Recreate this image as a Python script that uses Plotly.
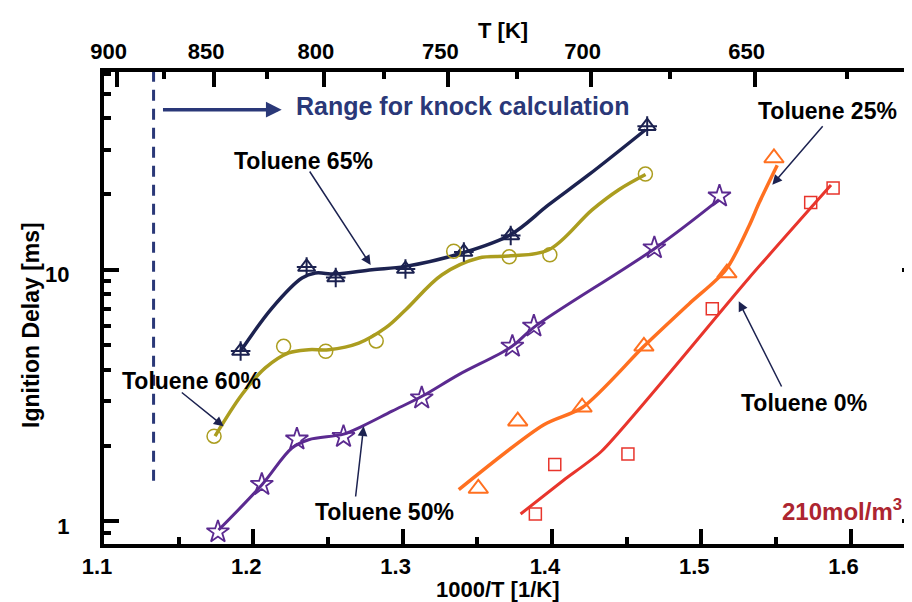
import plotly.graph_objects as go

# ---------------- data ----------------
# Toluene 65 %
t65_x = [1.1915, 1.2357, 1.2552, 1.3019, 1.3410, 1.3724, 1.4638]
t65_y = [4.75, 10.25, 9.31, 10.06, 11.76, 13.68, 37.2]
t65_fit_x = [1.1915, 1.2125, 1.2326, 1.2416, 1.2550, 1.2795, 1.3019, 1.3398, 1.3722, 1.3979, 1.4247, 1.4627]
t65_fit_y = [4.75, 7.04, 9.27, 9.70, 9.61, 10.0, 10.31, 11.65, 13.78, 18.13, 23.85, 36.0]

# Toluene 60 %
t60_x = [1.1737, 1.2203, 1.2485, 1.2823, 1.3342, 1.3714, 1.3986, 1.4626]
t60_y = [2.18, 4.96, 4.74, 5.21, 11.84, 11.25, 11.47, 24.0]
t60_fit_x = [1.1744, 1.1924, 1.2080, 1.2237, 1.2371, 1.2505, 1.2706, 1.2885, 1.3019, 1.3264, 1.3510, 1.3711, 1.3979, 1.4269, 1.4448, 1.4627]
t60_fit_y = [2.18, 3.19, 4.07, 4.67, 4.81, 4.81, 5.11, 5.87, 6.92, 9.55, 11.13, 11.33, 12.0, 17.3, 20.8, 23.9]

# Toluene 50 %
t50_x = [1.1763, 1.2057, 1.2292, 1.2604, 1.3128, 1.3735, 1.3879, 1.4686, 1.5122]
t50_y = [0.907, 1.40, 2.12, 2.17, 3.09, 4.96, 5.96, 12.2, 19.6]
t50_fit_x = [1.1767, 1.2058, 1.2259, 1.2371, 1.2605, 1.2728, 1.2929, 1.3130, 1.3376, 1.3733, 1.3879, 1.4694, 1.5119]
t50_fit_y = [0.923, 1.398, 1.956, 2.11, 2.22, 2.386, 2.74, 3.14, 3.83, 4.96, 5.90, 12.2, 18.98]

# Toluene 25 %
t25_x = [1.3507, 1.3771, 1.4202, 1.4616, 1.5172, 1.5487]
t25_y = [1.35, 2.50, 2.84, 4.96, 9.70, 27.8]
t25_fit_x = [1.3376, 1.3946, 1.4206, 1.4616, 1.4918, 1.5164, 1.5320, 1.5387, 1.5509]
t25_fit_y = [1.335, 2.42, 2.84, 4.96, 7.31, 9.97, 14.92, 18.4, 26.0]

# Toluene 0 %
t0_x = [1.3889, 1.4019, 1.4509, 1.5074, 1.5733, 1.5883]
t0_y = [1.07, 1.68, 1.85, 7.0, 18.5, 21.1]
t0_fit_x = [1.3790, 1.4080, 1.4334, 1.5320, 1.5869]
t0_fit_y = [1.069, 1.46, 1.903, 9.27, 21.7]

# knock-range boundary (dashed)
knock_x = [1.1332, 1.1332]
knock_y = [1.45, 61.0]

# axes / ticks
x_range = [1.1, 1.6445]
top_offset = 0.0027          # the printed T scale sits a few px left of 1000/T
y_range_log = [-0.0902, 1.7858]
x_ticks = [1.1, 1.2, 1.3, 1.4, 1.5, 1.6]
x_ticktext = ["1.1", "1.2", "1.3", "1.4", "1.5", "1.6"]
x_minor = [1.15, 1.25, 1.35, 1.45, 1.55]
T_major = [900, 850, 800, 750, 700, 650]
T_minor = [875, 825, 775, 725, 675, 625]
y_ticks = [1, 10]
y_ticktext = ["1", "10"]
y_minor = [0.9, 2, 3, 4, 5, 6, 7, 8, 9, 20, 30, 40, 50, 60]

FONT = "Liberation Sans, Arial, sans-serif"
NAVY = "#1c2250"
OLIVE = "#ab9d1f"
PURPLE = "#5b2a90"
ORANGE = "#ff7020"
RED = "#e8352c"
BLUE_TXT = "#2a3878"
DARKRED = "#ad2530"

fig = go.Figure()

# dashed knock line
fig.add_trace(go.Scatter(x=knock_x, y=knock_y, mode="lines",
                         line=dict(color=BLUE_TXT, width=3, dash="11px,8px"),
                         hoverinfo="skip", showlegend=False))

# invisible carrier trace so the top (T) axis is drawn
fig.add_trace(go.Scatter(x=[x_range[0] + top_offset, x_range[1] + top_offset], y=[1, 1],
                         xaxis="x2", mode="lines", opacity=0, hoverinfo="skip", showlegend=False))

# fitted curves
for fx, fy, col, w, sm in [(t65_fit_x, t65_fit_y, NAVY, 3.5, 1.0),
                           (t60_fit_x, t60_fit_y, OLIVE, 3.5, 1.0),
                           (t50_fit_x, t50_fit_y, PURPLE, 3, 1.0),
                           (t25_fit_x, t25_fit_y, ORANGE, 3.5, 0.8),
                           (t0_fit_x, t0_fit_y, RED, 3, 0.6)]:
    fig.add_trace(go.Scatter(x=fx, y=fy, mode="lines",
                             line=dict(color=col, width=w, shape="spline", smoothing=sm),
                             hoverinfo="skip", showlegend=False))

# markers
fig.add_trace(go.Scatter(x=t65_x, y=t65_y, mode="markers", showlegend=False,
                         marker=dict(symbol="triangle-up-open", size=15, color=NAVY, line=dict(width=2, color=NAVY))))
fig.add_trace(go.Scatter(x=t65_x, y=t65_y, mode="markers", showlegend=False,
                         marker=dict(symbol="cross-thin-open", size=14, color=NAVY, line=dict(width=2, color=NAVY))))
fig.add_trace(go.Scatter(x=t60_x, y=t60_y, mode="markers", showlegend=False,
                         marker=dict(symbol="circle-open", size=14, color=OLIVE, line=dict(width=1.5, color=OLIVE))))
fig.add_trace(go.Scatter(x=t50_x, y=t50_y, mode="markers", showlegend=False,
                         marker=dict(symbol="star-open", size=17, color=PURPLE, line=dict(width=1.8, color=PURPLE))))
fig.add_trace(go.Scatter(x=t25_x, y=t25_y, mode="markers", showlegend=False,
                         marker=dict(symbol="triangle-up-open", size=17, color=ORANGE, line=dict(width=2, color=ORANGE))))
fig.add_trace(go.Scatter(x=t0_x, y=t0_y, mode="markers", showlegend=False,
                         marker=dict(symbol="square-open", size=12, color=RED, line=dict(width=1.5, color=RED))))

annotations = []

def label(text, x, ly, size=23, color="black", xanchor="left"):
    annotations.append(dict(text=text, x=x, y=ly, xref="x", yref="y", showarrow=False,
                            xanchor=xanchor, yanchor="middle",
                            font=dict(family=FONT, size=size, color=color, weight="bold")))

def arrow(x_tail, ly_tail, x_head, ly_head, color=NAVY, width=1.5, size=1.3):
    annotations.append(dict(text="", x=x_head, y=ly_head, ax=x_tail, ay=ly_tail,
                            xref="x", yref="y", axref="x", ayref="y",
                            showarrow=True, arrowhead=2, arrowsize=size, arrowwidth=width,
                            arrowcolor=color, standoff=0, startstandoff=0))

label("Range for knock calculation", 1.2270, 1.6506, size=25, color=BLUE_TXT)
arrow(1.1385, 1.636, 1.2190, 1.636, color=BLUE_TXT, width=3.5, size=0.9)
label("Toluene 65%", 1.1854, 1.432)
arrow(1.2371, 1.3963, 1.2786, 1.0187)
label("Toluene 60%", 1.1104, 0.5576)
arrow(1.1511, 0.5167, 1.1801, 0.3776)
label("Toluene 50%", 1.2397, 0.037)
arrow(1.2684, 0.0926, 1.2739, 0.3776)
label("Toluene 25%", 1.5365, 1.6308)
arrow(1.5822, 1.5763, 1.5476, 1.3378)
label("Toluene 0%", 1.5251, 0.4702)
arrow(1.5543, 0.5298, 1.5251, 0.8744)
label("210mol/m<sup>3</sup>", 1.6359, 0.045, size=24, color=DARKRED, xanchor="right")

# axis titles
W, H = 912, 602
L, R, T, B = 96, 3, 64, 66
pw, ph = W - L - R, H - T - B

def paper(px, py):
    return (px - L) / pw, (H - B - py) / ph

for text, px, py, ang, sz in [("T [K]", 495, 22, 0, 22), ("1000/T [1/K]", 490, 581, 0, 22),
                              ("Ignition Delay [ms]", 23, 317, -90, 23)]:
    xp, yp = paper(px, py)
    annotations.append(dict(text=text, x=xp, y=yp, xref="paper", yref="paper", showarrow=False,
                            xanchor="center", yanchor="middle", textangle=ang,
                            font=dict(family=FONT, size=sz, color="black", weight="bold")))

tick_common = dict(ticks="inside", ticklen=15, tickwidth=3.5, tickcolor="black",
                   showline=True, linewidth=4, linecolor="black", showgrid=False, zeroline=False,
                   automargin=False,
                   tickfont=dict(family=FONT, size=22, color="black", weight="bold"))

fig.update_layout(
    width=W, height=H, autosize=False,
    margin=dict(l=L, r=R, t=T, b=B, pad=0),
    paper_bgcolor="white", plot_bgcolor="white",
    font=dict(family=FONT, size=22, color="black", weight="bold"),
    showlegend=False,
    xaxis=dict(range=x_range, tickmode="array", tickvals=x_ticks, ticktext=x_ticktext,
               mirror=False, ticklabelshift=-7,
               minor=dict(tickmode="array", tickvals=x_minor, ticks="inside", ticklen=7,
                          tickwidth=3.5, tickcolor="black"),
               **tick_common),
    xaxis2=dict(range=[x_range[0] + top_offset, x_range[1] + top_offset], overlaying="x",
                side="top", anchor="y", ticklabelshift=-8,
                tickmode="array", tickvals=[1000.0 / t for t in T_major],
                ticktext=[str(t) for t in T_major],
                minor=dict(tickmode="array", tickvals=[1000.0 / t for t in T_minor], ticks="inside",
                           ticklen=7, tickwidth=3.5, tickcolor="black"),
                **tick_common),
    yaxis=dict(type="log", range=y_range_log, tickmode="array", tickvals=y_ticks,
               ticktext=y_ticktext, mirror="ticks", ticklabelstandoff=26, ticklabelshift=5,
               minor=dict(tickmode="array", tickvals=y_minor, ticks="inside", ticklen=7,
                          tickwidth=3.5, tickcolor="black"),
               **tick_common),
    annotations=annotations,
)

fig.write_html("out.html")
